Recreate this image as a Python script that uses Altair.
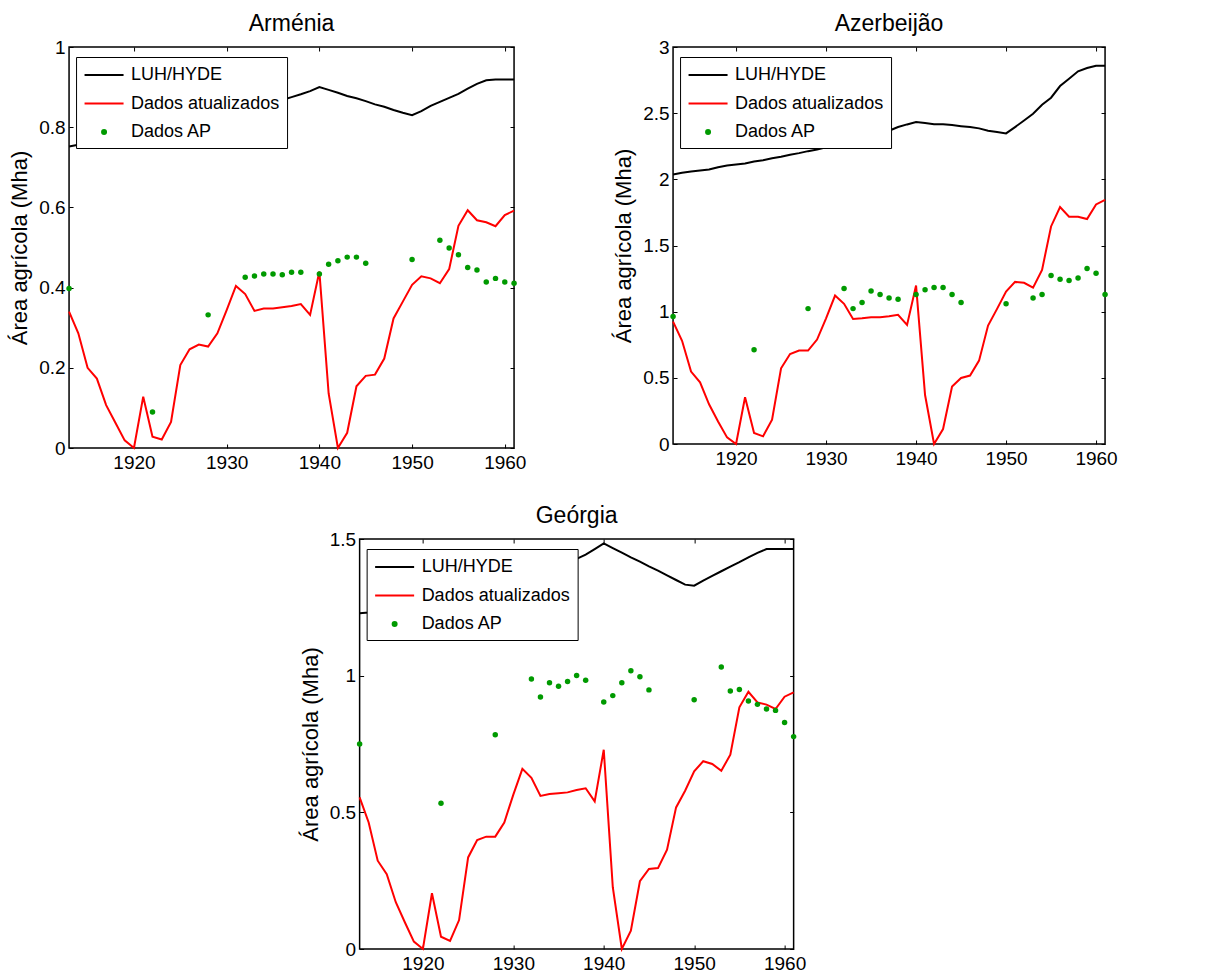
import altair as alt
import pandas as pd

FONT = "Liberation Sans"
BLACK, RED, GREEN = "#000000", "#ff0000", "#009a00"
SERIES = ["LUH/HYDE", "Dados atualizados", "Dados AP"]
Y_TITLE = "Área agrícola (Mha)"

years = list(range(1913, 1962))
ap_years = [1913, 1922, 1928, 1932, 1933, 1934, 1935, 1936, 1937, 1938,
            1940, 1941, 1942, 1943, 1944, 1945, 1950,
            1953, 1954, 1955, 1956, 1957, 1958, 1959, 1960, 1961]
x_ticks = [1920, 1930, 1940, 1950, 1960]

# Arménia
arm_luh = [0.752, 0.756, 0.761, 0.767, 0.773, 0.779, 0.784, 0.790, 0.795, 0.801,
           0.806, 0.812, 0.817, 0.822, 0.828, 0.833, 0.838, 0.843, 0.848, 0.852,
           0.856, 0.860, 0.864, 0.868, 0.875, 0.882, 0.890, 0.900, 0.893, 0.886,
           0.878, 0.872, 0.865, 0.857, 0.851, 0.843, 0.836, 0.830, 0.840, 0.853,
           0.863, 0.873, 0.883, 0.896, 0.908, 0.917, 0.919, 0.919, 0.919]
arm_upd = [0.340, 0.286, 0.200, 0.173, 0.107, 0.063, 0.019, 0.000, 0.128, 0.028,
           0.021, 0.065, 0.207, 0.246, 0.258, 0.253, 0.286, 0.344, 0.404, 0.384,
           0.342, 0.348, 0.348, 0.351, 0.354, 0.359, 0.332, 0.440, 0.136, 0.000,
           0.038, 0.154, 0.180, 0.183, 0.223, 0.323, 0.365, 0.407, 0.428, 0.423,
           0.411, 0.446, 0.554, 0.593, 0.568, 0.563, 0.553, 0.581, 0.592]
arm_ap = [0.398, 0.090, 0.332, 0.426, 0.429, 0.434, 0.434, 0.432, 0.438, 0.438,
          0.434, 0.458, 0.467, 0.476, 0.476, 0.461, 0.470,
          0.518, 0.499, 0.482, 0.450, 0.444, 0.414, 0.423, 0.414, 0.411]

# Azerbeijão
aze_luh = [2.037, 2.050, 2.060, 2.067, 2.075, 2.092, 2.105, 2.112, 2.120, 2.135,
           2.145, 2.160, 2.170, 2.186, 2.198, 2.213, 2.226, 2.243, 2.261, 2.276,
           2.294, 2.310, 2.329, 2.347, 2.367, 2.395, 2.415, 2.433, 2.425, 2.417,
           2.417, 2.410, 2.402, 2.395, 2.385, 2.367, 2.357, 2.347, 2.395, 2.445,
           2.496, 2.564, 2.617, 2.705, 2.760, 2.816, 2.841, 2.859, 2.859]
aze_upd = [0.925, 0.780, 0.547, 0.466, 0.300, 0.170, 0.050, 0.000, 0.353, 0.083,
           0.058, 0.184, 0.572, 0.680, 0.706, 0.706, 0.789, 0.950, 1.122, 1.059,
           0.945, 0.950, 0.958, 0.958, 0.965, 0.976, 0.900, 1.197, 0.370, 0.000,
           0.113, 0.434, 0.499, 0.517, 0.630, 0.895, 1.021, 1.152, 1.225, 1.218,
           1.182, 1.316, 1.644, 1.790, 1.717, 1.717, 1.700, 1.810, 1.845]
aze_ap = [0.963, 0.713, 1.023, 1.175, 1.023, 1.069, 1.157, 1.129, 1.104, 1.094,
          1.129, 1.165, 1.182, 1.182, 1.129, 1.069, 1.059,
          1.104, 1.129, 1.273, 1.245, 1.235, 1.255, 1.326, 1.290, 1.129]

# Geórgia
geo_luh = [1.228, 1.231, 1.236, 1.242, 1.251, 1.260, 1.270, 1.280, 1.290, 1.300,
           1.311, 1.321, 1.331, 1.341, 1.351, 1.361, 1.370, 1.378, 1.385, 1.392,
           1.398, 1.404, 1.409, 1.412, 1.427, 1.443, 1.463, 1.484, 1.467, 1.450,
           1.433, 1.417, 1.400, 1.384, 1.367, 1.350, 1.333, 1.329, 1.348, 1.365,
           1.382, 1.399, 1.415, 1.433, 1.449, 1.463, 1.463, 1.463, 1.463]
geo_upd = [0.555, 0.463, 0.323, 0.274, 0.171, 0.098, 0.027, 0.000, 0.204, 0.045,
           0.030, 0.106, 0.335, 0.399, 0.411, 0.411, 0.463, 0.565, 0.659, 0.626,
           0.560, 0.567, 0.570, 0.573, 0.582, 0.588, 0.540, 0.729, 0.226, 0.000,
           0.067, 0.248, 0.293, 0.296, 0.363, 0.518, 0.579, 0.650, 0.687, 0.677,
           0.652, 0.711, 0.884, 0.941, 0.902, 0.894, 0.878, 0.923, 0.939]
geo_ap = [0.750, 0.533, 0.784, 0.988, 0.922, 0.974, 0.961, 0.979, 1.001, 0.983,
          0.904, 0.927, 0.974, 1.018, 0.996, 0.948, 0.912,
          1.032, 0.944, 0.949, 0.907, 0.895, 0.878, 0.873, 0.829, 0.777]

# legend symbols: a short stroke for the line series, a small dot for the points
IS_AP = "datum.value === 'Dados AP'"
DOT_PATH = "M-0.2,0A0.2,0.2,0,1,1,0.2,0A0.2,0.2,0,1,1,-0.2,0Z"
STROKE_PATH = "M-1.95,0H1.95"

legend = alt.Legend(
    orient="none", legendX=7, legendY=10, title=None, zindex=1,
    fillColor="white", strokeColor="black", padding=7,
    labelFont=FONT, labelFontSize=18, labelColor="black",
    labelOffset=16, symbolOffset=10, rowPadding=8.5,
    symbolSize=400, symbolStrokeWidth=2,
    symbolType={"expr": f"{IS_AP} ? '{DOT_PATH}' : '{STROKE_PATH}'"},
    symbolFillColor={"expr": f"{IS_AP} ? '{GREEN}' : 'transparent'"},
)

color = alt.Color(
    "serie:N",
    scale=alt.Scale(domain=SERIES, range=[BLACK, RED, GREEN]),
    sort=SERIES,
)

INWARD = {"expr": "-4"}


def panel(name, luh, upd, ap, ymax, yticks, w, h, right_extent=0):
    rows = []
    for yr, v in zip(years, luh):
        rows.append({"ano": yr, "valor": v, "serie": SERIES[0]})
    for yr, v in zip(years, upd):
        rows.append({"ano": yr, "valor": v, "serie": SERIES[1]})
    for yr, v in zip(ap_years, ap):
        rows.append({"ano": yr, "valor": v, "serie": SERIES[2]})
    df = pd.DataFrame(rows)

    xs = alt.Scale(domain=[1913, 1961], nice=False, zero=False)
    ys = alt.Scale(domain=[0, ymax], nice=False)

    lines = alt.Chart(df).transform_filter(
        alt.datum.serie != SERIES[2]
    ).mark_line(strokeWidth=2).encode(
        x=alt.X("ano:Q", scale=xs, axis=alt.Axis(
            values=x_ticks, format="d", title=None, domain=False,
            tickSize=INWARD, tickColor="black", labelPadding=9,
            labelFont=FONT, labelFontSize=19, labelColor="black", grid=False)),
        y=alt.Y("valor:Q", scale=ys, axis=alt.Axis(
            values=yticks, format="~g", title=Y_TITLE, domain=False,
            tickSize=INWARD, tickColor="black", labelPadding=8,
            labelFont=FONT, labelFontSize=19, labelColor="black",
            titleFont=FONT, titleFontSize=22, titleFontWeight="normal",
            titleColor="black", titlePadding=7, grid=False)),
        color=color.legend(legend),
    )

    points = alt.Chart(df).transform_filter(
        alt.datum.serie == SERIES[2]
    ).mark_circle(size=30, opacity=1).encode(
        x=alt.X("ano:Q", scale=xs, axis=alt.Axis(
            orient="top", values=x_ticks, labels=False, title=None, domain=False,
            tickSize=INWARD, tickColor="black", grid=False)),
        y=alt.Y("valor:Q", scale=ys, axis=alt.Axis(
            orient="right", values=yticks, labels=False, title=None, domain=False,
            tickSize=INWARD, tickColor="black", grid=False,
            minExtent=right_extent)),
        color=color.legend(None),
    )

    return alt.layer(lines, points).resolve_axis(
        x="independent", y="independent"
    ).properties(
        width=w, height=h,
        title=alt.TitleParams(name, font=FONT, fontSize=23, fontWeight="normal",
                              color="black", offset=2, anchor="middle"),
    )


arm = panel("Arménia", arm_luh, arm_upd, arm_ap, 1.0,
            [0, 0.2, 0.4, 0.6, 0.8, 1.0], 445, 401)
aze = panel("Azerbeijão", aze_luh, aze_upd, aze_ap, 3.0,
            [0, 0.5, 1, 1.5, 2, 2.5, 3], 432, 397)
geo = panel("Geórgia", geo_luh, geo_upd, geo_ap, 1.5,
            [0, 0.5, 1, 1.5], 434, 410, right_extent=33)

top = alt.hconcat(arm, aze, spacing=84).resolve_scale(color="independent")
chart = alt.vconcat(top, geo, spacing=31, center=True).resolve_scale(
    color="independent"
).properties(
    padding={"left": 7, "top": 12, "right": 5, "bottom": 5},
    background="white",
).configure_view(stroke="black", strokeWidth=1.5)

chart.save("out.html", embed_options={"renderer": "svg", "actions": False})
